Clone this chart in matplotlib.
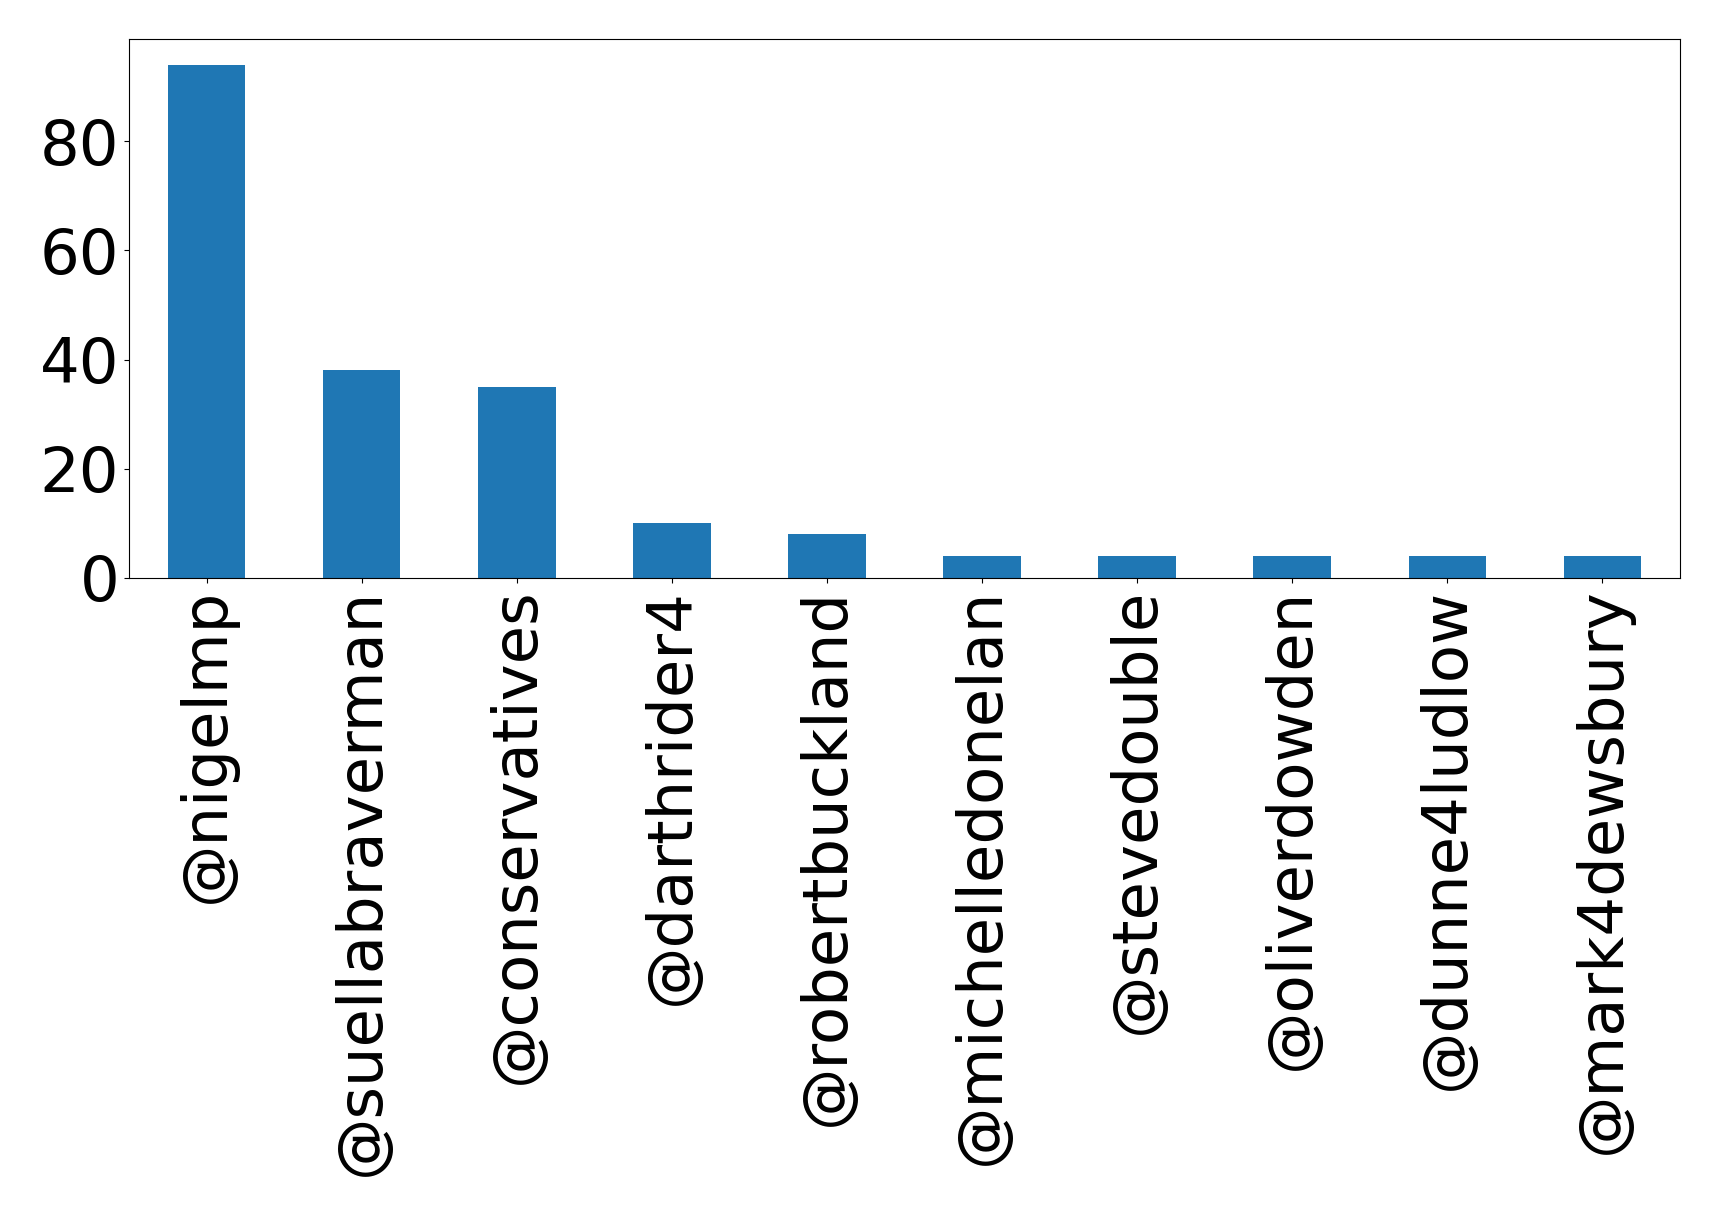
import matplotlib
matplotlib.use("Agg")
import matplotlib.pyplot as plt
import pandas as pd

# mentions per account
accounts = ['@nigelmp', '@suellabraverman', '@conservatives', '@darthrider4',
            '@robertbuckland', '@michelledonelan', '@stevedouble', '@oliverdowden',
            '@dunne4ludlow', '@mark4dewsbury']
counts = [94, 38, 35, 10, 8, 4, 4, 4, 4, 4]
yticks = [0, 20, 40, 60, 80]

s = pd.Series(counts, index=accounts)

fig = plt.figure(figsize=(17.19, 12.16), dpi=100)
ax = fig.add_axes([129/1719, 1 - 578/1216, (1680-129)/1719, (578-39)/1216])
s.plot(kind='bar', ax=ax, color='#1f77b4')
ax.set_yticks(yticks)
ax.tick_params(axis='both', labelsize=45)
ax.set_xticklabels(accounts, rotation=90)

fig.savefig('out.png', dpi=100)
